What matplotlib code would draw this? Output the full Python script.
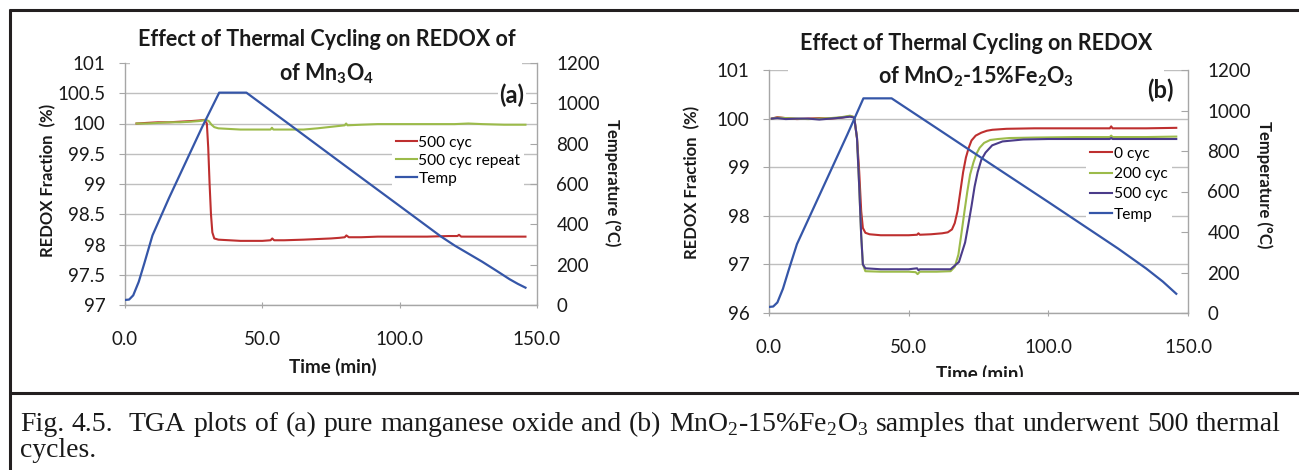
import numpy as np
import matplotlib
matplotlib.use("Agg")
import matplotlib.pyplot as plt
from matplotlib.lines import Line2D
from matplotlib.patches import Rectangle

plt.rcParams['font.family'] = ['Lato', 'DejaVu Sans']
plt.rcParams['mathtext.fontset'] = 'custom'
plt.rcParams['mathtext.rm'] = 'Liberation Serif'
plt.rcParams['mathtext.bf'] = 'Lato:bold'

# ---- panel (a): Mn3O4 ----
t_temp_a = [0, 1.5, 3, 5, 7, 10, 16, 22, 28, 34.3, 44.2, 60, 80, 100, 115, 120, 125, 130, 135, 140, 143, 145.8]
temp_a = [25, 27, 48, 115, 205, 345, 530, 705, 880, 1053, 1053, 894, 692, 491, 340, 295, 255, 215, 172, 128, 105, 86]

t_red_a = [4.2, 8, 12, 16, 20, 24, 27, 29, 29.8, 30.3, 30.8, 31.3, 31.8, 32.5, 34, 38, 42, 46, 50, 53,
           53.6, 54.3, 58, 65, 70, 75, 78, 80, 80.6, 81.5, 86, 92, 100, 110, 118, 121, 121.6, 122.4,
           125, 130, 138, 145.8]
red_a = [100.0, 100.01, 100.02, 100.02, 100.03, 100.04, 100.05, 100.06, 100.0, 99.6, 99.0, 98.5, 98.2,
         98.1, 98.08, 98.07, 98.06, 98.06, 98.06, 98.07, 98.1, 98.07, 98.07, 98.08, 98.09, 98.1, 98.11,
         98.12, 98.15, 98.12, 98.12, 98.13, 98.13, 98.13, 98.14, 98.14, 98.16, 98.13, 98.13, 98.13,
         98.13, 98.13]

t_grn_a = [4.2, 8, 12, 16, 20, 24, 27, 29.5, 30.5, 31.5, 32.5, 34, 38, 42, 46, 50, 53, 53.5, 54, 60,
           65, 70, 74, 78, 80, 80.5, 81, 86, 92, 100, 110, 120, 125, 130, 138, 145.8]
grn_a = [100.0, 100.0, 100.01, 100.02, 100.02, 100.03, 100.04, 100.06, 100.04, 99.98, 99.94, 99.92,
         99.91, 99.9, 99.9, 99.9, 99.9, 99.93, 99.9, 99.9, 99.9, 99.92, 99.94, 99.96, 99.97, 100.0,
         99.97, 99.98, 99.99, 99.99, 99.99, 99.99, 100.0, 99.99, 99.98, 99.98]

labels_a = ['500 cyc', '500 cyc repeat', 'Temp']

# ---- panel (b): MnO2-15%Fe2O3 ----
t_temp_b = [0, 1.5, 3, 5, 7, 10, 16, 22, 28, 33.8, 43.9, 60, 80, 100, 115, 125, 135, 141, 145.8]
temp_b = [30, 32, 52, 120, 210, 340, 520, 700, 880, 1060, 1060, 913, 730, 548, 410, 318, 220, 155, 95]

t_red_b = [1, 3, 6, 10, 14, 18, 22, 26, 29, 30.5, 31.5, 32.3, 33, 33.6, 34.5, 36, 40, 45, 50, 53,
           53.5, 54, 58, 62, 64, 65.5, 66.5, 67.5, 68.5, 69.5, 70.5, 71.5, 72.5, 74, 76, 78, 80, 85,
           95, 110, 122, 122.5, 123, 135, 145.8]
red_b = [100.0, 100.03, 100.01, 99.99, 100.0, 100.01, 100.0, 100.02, 100.05, 100.03, 99.6, 98.9, 98.1,
         97.75, 97.65, 97.62, 97.6, 97.6, 97.6, 97.61, 97.64, 97.61, 97.62, 97.64, 97.66, 97.72, 97.85,
         98.1, 98.5, 98.9, 99.2, 99.4, 99.55, 99.65, 99.71, 99.75, 99.77, 99.79, 99.8, 99.8, 99.8,
         99.84, 99.8, 99.8, 99.81]

t_grn_b = [1, 3, 6, 10, 14, 18, 22, 26, 29, 30.5, 31.5, 32.3, 33, 33.6, 34.5, 40, 45, 50, 52.5, 53.2,
           54, 60, 65, 66.5, 67.8, 68.8, 70, 71, 72, 73.2, 74.3, 75.4, 77, 79.2, 82, 86, 95, 110, 122,
           122.5, 123, 135, 145.8]
grn_b = [100.0, 100.02, 100.01, 100.0, 99.99, 100.0, 100.01, 100.03, 100.06, 100.03, 99.6, 98.6, 97.6,
         97.0, 96.86, 96.85, 96.85, 96.85, 96.84, 96.8, 96.85, 96.85, 96.86, 96.95, 97.2, 97.6, 98.1,
         98.5, 98.85, 99.1, 99.28, 99.4, 99.5, 99.56, 99.58, 99.6, 99.61, 99.62, 99.62, 99.65, 99.62,
         99.62, 99.63]

t_pur_b = [1, 3, 6, 10, 14, 18, 22, 26, 29, 30.5, 31.5, 32.3, 33, 33.6, 34.5, 40, 45, 50, 53, 53.5,
           54, 60, 65, 68, 70.2, 71.3, 72.5, 73.6, 74.7, 76, 77.5, 79.9, 83.6, 91, 100, 110, 122,
           122.5, 123, 135, 145.8]
pur_b = [100.0, 100.01, 99.99, 100.0, 100.0, 99.98, 100.0, 100.02, 100.04, 100.02, 99.6, 98.6, 97.6,
         97.0, 96.92, 96.9, 96.9, 96.9, 96.92, 96.88, 96.9, 96.9, 96.9, 97.05, 97.45, 97.8, 98.2,
         98.6, 98.9, 99.15, 99.3, 99.45, 99.53, 99.57, 99.58, 99.58, 99.58, 99.6, 99.58, 99.58, 99.58]

labels_b = ['0 cyc', '200 cyc', '500 cyc', 'Temp']

xticks = [0, 50, 100, 150]
xticklabels = ['0.0', '50.0', '100.0', '150.0']
yticks_a = [97, 97.5, 98, 98.5, 99, 99.5, 100, 100.5, 101]
yticklabels_a = ['97', '97.5', '98', '98.5', '99', '99.5', '100', '100.5', '101']
yticks_b = [96, 97, 98, 99, 100, 101]
yticklabels_b = ['96', '97', '98', '99', '100', '101']
temp_ticks = [0, 200, 400, 600, 800, 1000, 1200]

RED = '#BE2F2F'
GREEN = '#9CBB4A'
PURPLE = '#4B3C8A'
BLUE = '#3556A8'
GRID = '#BFBFBF'
SPINE = '#A6A6A6'
TXT = '#1A1A1A'

W, H = 1299, 470
fig = plt.figure(figsize=(W / 100, H / 100), dpi=100)
fig.patch.set_facecolor('white')


def fx(x):
    return x / W


def fy(y):
    return 1 - y / H


def setup(left, top, right, bottom, ylim, yticks, yticklabels):
    ax = fig.add_axes([fx(left), fy(bottom), (right - left) / W, (bottom - top) / H])
    ax.set_xlim(0, 150)
    ax.set_ylim(*ylim)
    ax.set_xticks(xticks)
    ax.set_xticklabels(xticklabels)
    ax.set_yticks(yticks)
    ax.set_yticklabels(yticklabels)
    ax.yaxis.grid(True, color=GRID, lw=1)
    ax.set_axisbelow(True)
    for s in ['top', 'right']:
        ax.spines[s].set_visible(False)
    for s in ['left', 'bottom']:
        ax.spines[s].set_color(SPINE)
        ax.spines[s].set_linewidth(1)
    ax.tick_params(axis='y', direction='out', length=4, color=SPINE, pad=10,
                   labelsize=13.5, labelcolor=TXT)
    ax.tick_params(axis='x', direction='inout', length=5, color=SPINE, pad=16,
                   labelsize=13.5, labelcolor=TXT)

    ax2 = ax.twinx()
    ax2.set_ylim(0, 1200)
    ax2.set_yticks(temp_ticks)
    for s in ['top', 'left', 'bottom']:
        ax2.spines[s].set_visible(False)
    ax2.spines['right'].set_color(SPINE)
    ax2.spines['right'].set_linewidth(1)
    ax2.tick_params(axis='y', direction='in', length=5, color=SPINE, pad=14,
                    labelsize=13.5, labelcolor=TXT)
    return ax, ax2


# panel (a)
ax_a, ax_a2 = setup(125, 63, 537, 305, (97, 101), yticks_a, yticklabels_a)
h1, = ax_a.plot(t_red_a, red_a, color=RED, lw=1.5)
h2, = ax_a.plot(t_grn_a, grn_a, color=GREEN, lw=1.5)
h3, = ax_a2.plot(t_temp_a, temp_a, color=BLUE, lw=1.6)
ax_a2.legend([h1, h2, h3], labels_a, loc='upper left', bbox_to_anchor=(fx(392), fy(132)),
             bbox_transform=fig.transFigure, frameon=True, fancybox=False, framealpha=1,
             facecolor='white', edgecolor='none', fontsize=11.2, handlelength=1.35,
             handletextpad=0.1, labelspacing=0.25, borderpad=0.25, borderaxespad=0)

# panel (b)
ax_b, ax_b2 = setup(769, 70, 1188, 313, (96, 101), yticks_b, yticklabels_b)
g1, = ax_b.plot(t_red_b, red_b, color=RED, lw=1.5)
g2, = ax_b.plot(t_grn_b, grn_b, color=GREEN, lw=1.5)
g3, = ax_b.plot(t_pur_b, pur_b, color=PURPLE, lw=1.5)
g4, = ax_b2.plot(t_temp_b, temp_b, color=BLUE, lw=1.6)
ax_b2.legend([g1, g2, g3, g4], labels_b, loc='upper left', bbox_to_anchor=(fx(1086), fy(143)),
             bbox_transform=fig.transFigure, frameon=True, fancybox=False, framealpha=1,
             facecolor='white', edgecolor='none', fontsize=11.2, handlelength=1.45,
             handletextpad=0.1, labelspacing=0.4, borderpad=0.25, borderaxespad=0)

# titles (white box behind them, like the Excel chart title)
fig.patches.append(Rectangle((fx(130), fy(88)), (522 - 130) / W, (88 - 20) / H,
                             transform=fig.transFigure, facecolor='white', edgecolor='none', zorder=2))
fig.patches.append(Rectangle((fx(788), fy(92)), (1164 - 788) / W, (92 - 22) / H,
                             transform=fig.transFigure, facecolor='white', edgecolor='none', zorder=2))
tkw = dict(ha='center', va='center', fontsize=15.5, fontweight='bold', color=TXT, zorder=3)
fig.text(fx(327), fy(40), 'Effect of Thermal Cycling on REDOX of', **tkw)
fig.text(fx(327), fy(74), r'of Mn$_\mathbf{3}$O$_\mathbf{4}$', **tkw)
fig.text(fx(976), fy(43), 'Effect of Thermal Cycling on REDOX', **tkw)
fig.text(fx(976), fy(77), r'of MnO$_\mathbf{2}$-15%Fe$_\mathbf{2}$O$_\mathbf{3}$', **tkw)

pkw = dict(ha='center', va='center', fontsize=17, fontweight='bold', color=TXT, zorder=3,
           bbox=dict(facecolor='white', edgecolor='none', pad=1))
fig.text(fx(512), fy(95), '(a)', **pkw)
fig.text(fx(1160), fy(90), '(b)', **pkw)

# axis labels
lkw = dict(ha='center', va='center', fontsize=12, fontweight='bold', color=TXT)
fig.text(fx(48), fy(180), 'REDOX Fraction  (%)', rotation=90, **lkw)
fig.text(fx(612), fy(183), 'Temperature (°C)', rotation=270, **lkw)
fig.text(fx(692), fy(182), 'REDOX Fraction  (%)', rotation=90, **lkw)
fig.text(fx(1264), fy(185), 'Temperature (°C)', rotation=270, **lkw)
xkw = dict(ha='center', va='center', fontsize=13.5, fontweight='bold', color=TXT)
fig.text(fx(333), fy(367), 'Time (min)', **xkw)
fig.text(fx(980), fy(374), 'Time (min)', **xkw)
# the right panel is cut off just below its x label
fig.patches.append(Rectangle((fx(900), fy(392)), 200 / W, 15 / H, transform=fig.transFigure,
                             facecolor='white', edgecolor='none', zorder=5))

# frame lines
bkw = dict(color='#231F20', lw=2.2, transform=fig.transFigure, solid_capstyle='butt')
fig.lines.append(Line2D([fx(9.5), fx(9.5)], [fy(8.5), fy(470)], **bkw))
fig.lines.append(Line2D([fx(8.5), fx(1299)], [fy(9.5), fy(9.5)], **bkw))
fig.lines.append(Line2D([fx(8.5), fx(1299)], [fy(393), fy(393)], **bkw))

# caption, justified across the line
line1 = ['Fig.', '4.5.', 'TGA', 'plots', 'of', '(a)', 'pure', 'manganese', 'oxide', 'and', '(b)',
         r'MnO$_2$-15%Fe$_2$O$_3$', 'samples', 'that', 'underwent', '500', 'thermal']
line2 = 'cycles.'
ckw = dict(fontsize=20, family='Liberation Serif', color=TXT, va='baseline', ha='left')
renderer = fig.canvas.get_renderer()
words = [fig.text(0, fy(431), w, **ckw) for w in line1]
widths = [t.get_window_extent(renderer).width for t in words]
weights = [1.0] * (len(words) - 1)
weights[1] = 2.0  # double space after "4.5."
gap = (1281 - 20 - sum(widths)) / sum(weights)
x = 20
for i, t in enumerate(words):
    t.set_x(fx(x))
    x += widths[i] + (gap * weights[i] if i < len(weights) else 0)
fig.text(fx(20), fy(457), line2, **ckw)

fig.savefig('out.png', dpi=100, facecolor='white')
